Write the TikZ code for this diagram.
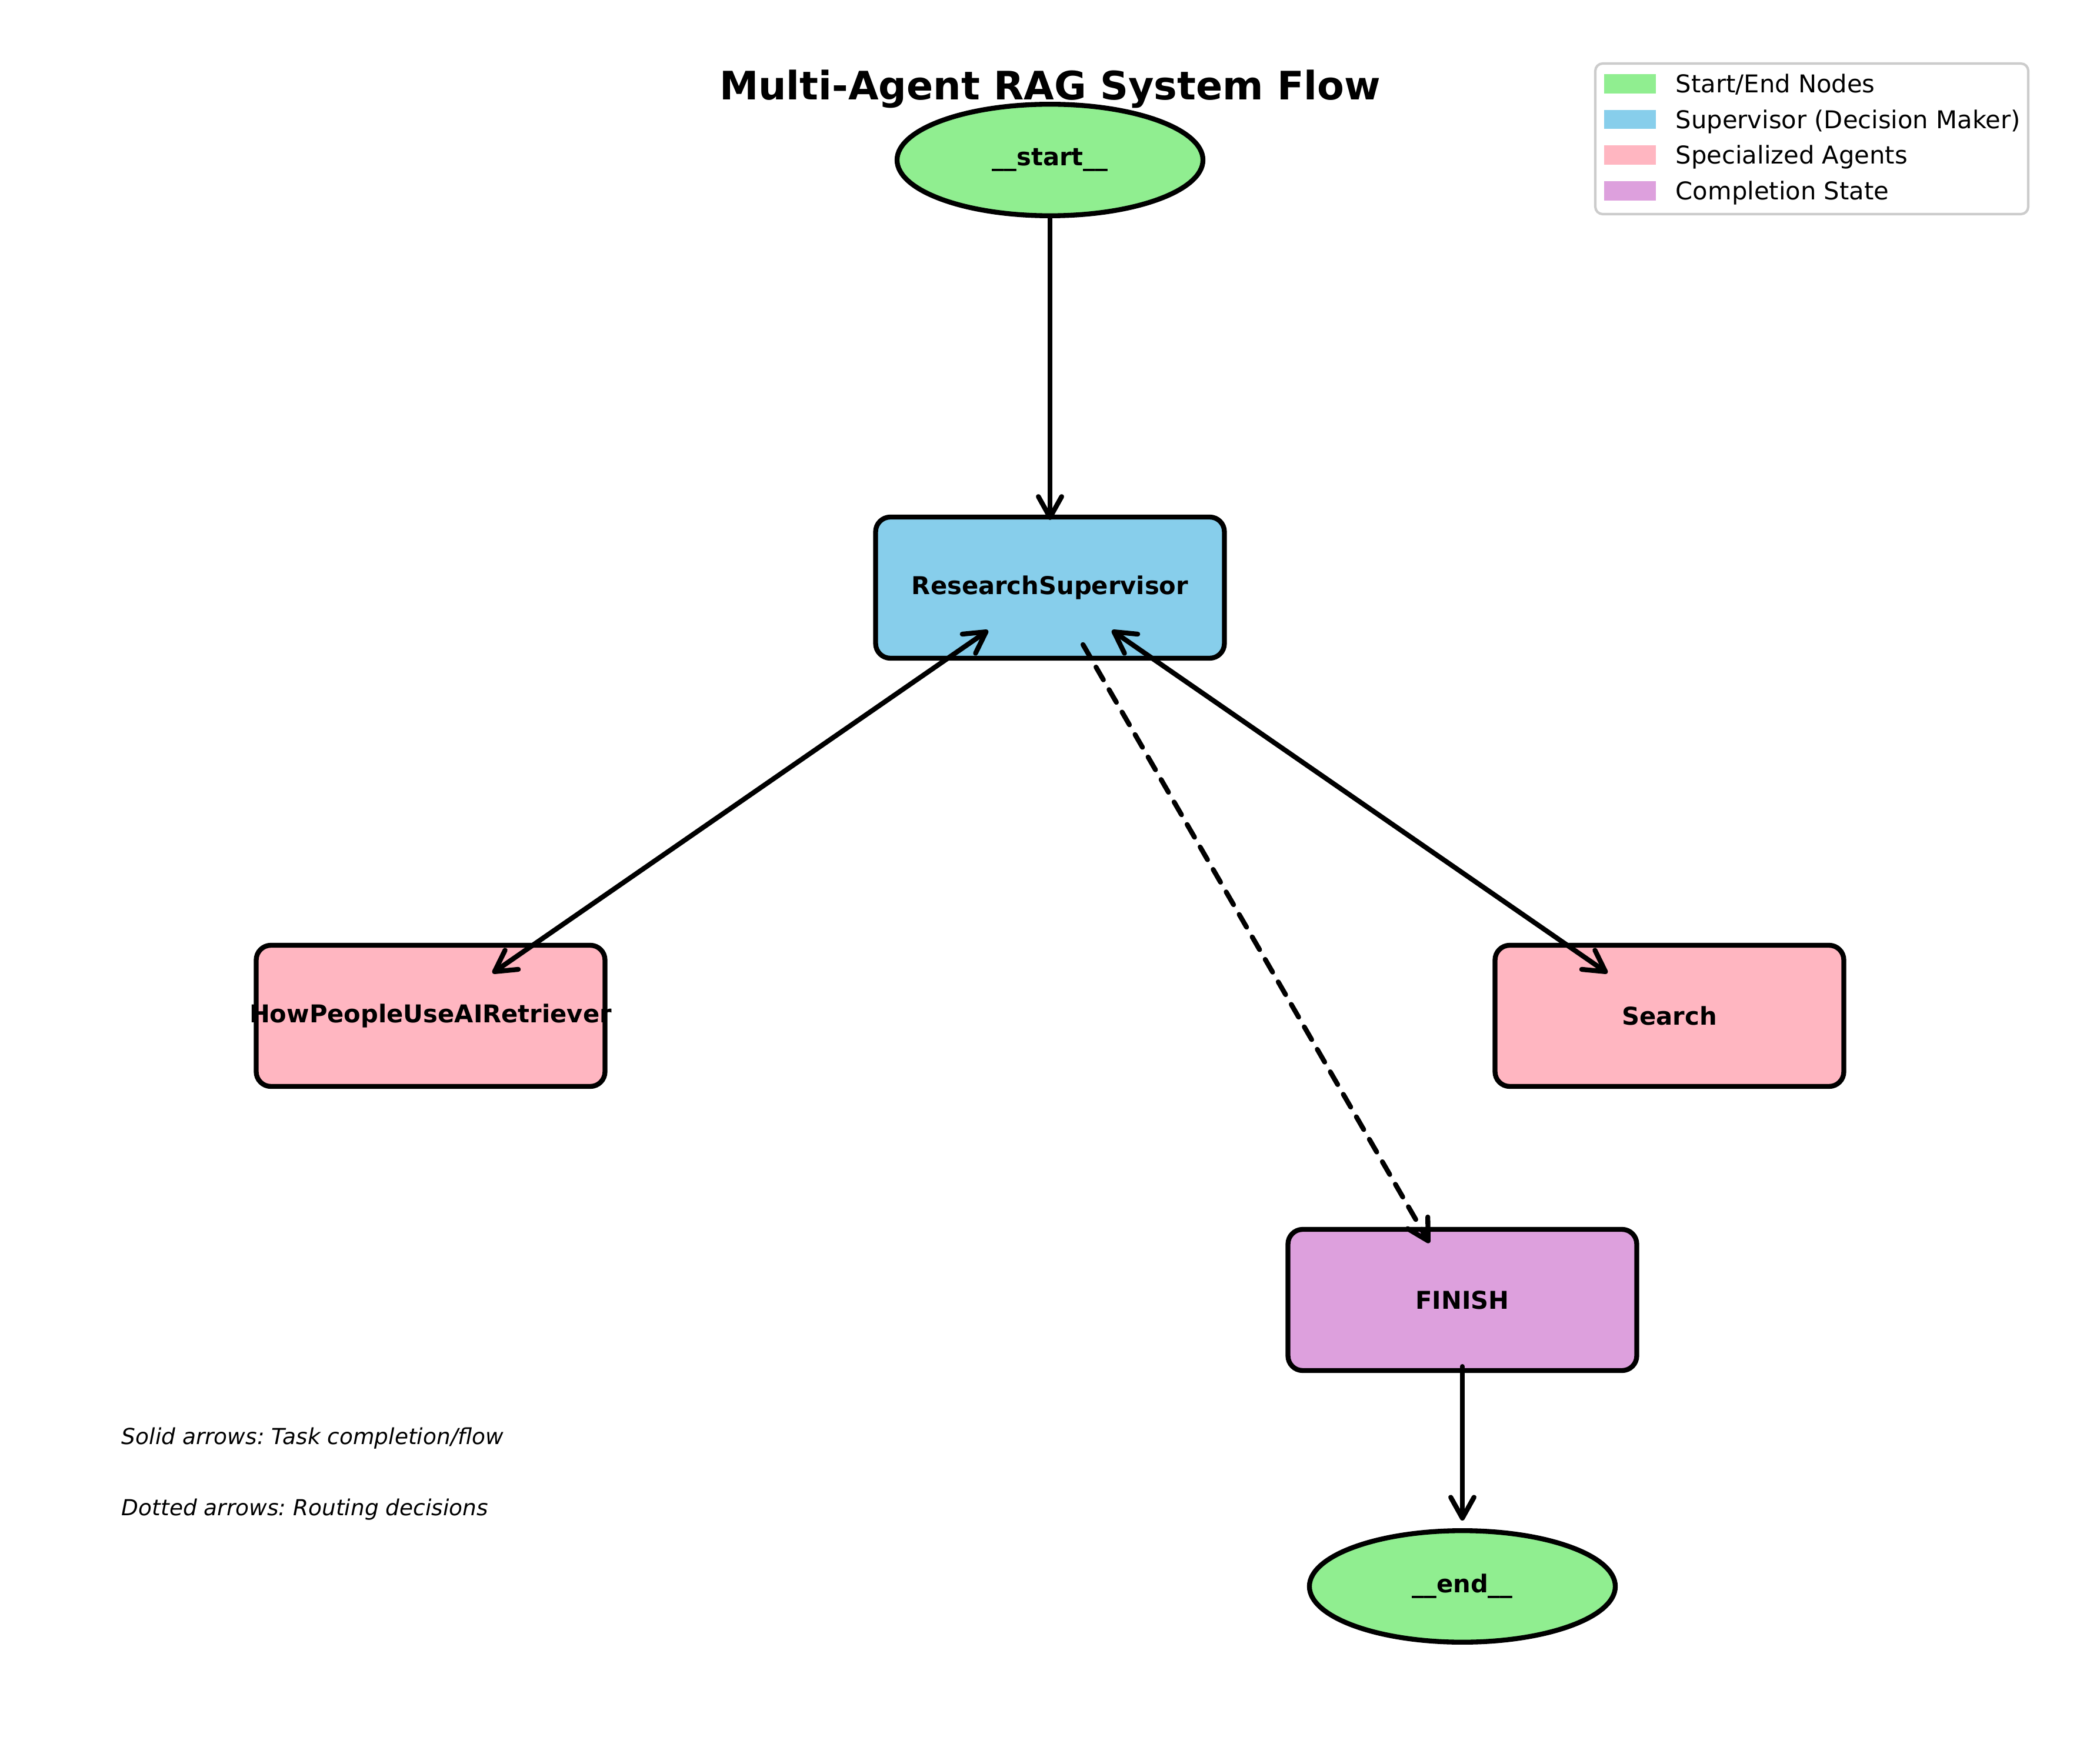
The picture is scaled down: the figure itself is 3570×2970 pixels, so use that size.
\documentclass[tikz,border=0pt]{standalone}
\usepackage{fontspec}
\setmainfont{DejaVu Sans}
\usetikzlibrary{shapes.geometric,arrows.meta,calc}
\frenchspacing
\definecolor{cgreen}{HTML}{90EE90}
\definecolor{cblue}{HTML}{87CEEB}
\definecolor{cpink}{HTML}{FFB6C1}
\definecolor{cplum}{HTML}{DDA0DD}
\definecolor{legframe}{HTML}{CCCCCC}
\tikzset{
  boxnode/.style={draw=black, line width=2bp, rounded corners=6bp, minimum width=142.3bp, minimum height=57.6bp, inner sep=0pt, font=\fontsize{10bp}{12bp}\selectfont\bfseries},
  ovalnode/.style={ellipse, draw=black, fill=cgreen, line width=2bp, minimum width=124.8bp, minimum height=45.5bp, inner sep=0pt, font=\fontsize{10bp}{12bp}\selectfont\bfseries},
  flowarrow/.style={line width=2bp, line cap=round, line join=round, -{Straight Barb[length=8.5bp,width=9.5bp,line cap=round,line join=round]}},
  twoarrow/.style={line width=2bp, line cap=round, line join=round, {Straight Barb[length=8.5bp,width=9.5bp,line cap=round,line join=round]}-{Straight Barb[length=8.5bp,width=9.5bp,line cap=round,line join=round]}},
  dasharrow/.style={flowarrow, dash pattern=on 6bp off 4.6bp},
  legpatch/.style={minimum width=21.1bp, minimum height=7.9bp, inner sep=0pt, draw=none},
  legtext/.style={anchor=base west, inner sep=0pt, font=\fontsize{10bp}{12bp}\selectfont},
  notetext/.style={anchor=base west, inner sep=0pt, font=\fontsize{9bp}{11bp}\selectfont\itshape}
}
\begin{document}
\begin{tikzpicture}[x=0.24bp, y=-0.24bp]
\useasboundingbox (0,0) rectangle (3570,2970);
\fill[white] (0,0) rectangle (3570,2970);

% title
\node[anchor=base, inner sep=0pt, font=\fontsize{16bp}{19bp}\selectfont\bfseries] (title) at (1785,170) {Multi-Agent RAG System Flow};

% nodes
\node[ovalnode] (start) at (1785,272) {\_\_start\_\_};
\node[boxnode, fill=cblue] (sup) at (1785,999) {ResearchSupervisor};
\node[boxnode, fill=cpink] (how) at (732,1727) {\makebox[0pt]{HowPeopleUseAIRetriever}};
\node[boxnode, fill=cpink] (search) at (2838,1727) {Search};
\node[boxnode, fill=cplum] (finish) at (2486,2210) {FINISH};
\node[ovalnode] (end) at (2486,2697) {\_\_end\_\_};

% connectors
\draw[flowarrow] (start.south) -- ($(sup.north)+(0,9)$);
\draw[twoarrow] ($(sup)!0.1!(how)$) -- ($(sup)!0.9!(how)$);
\draw[twoarrow] ($(sup)!0.1!(search)$) -- ($(sup)!0.9!(search)$);
\draw[dasharrow] ($(sup)!0.08!(finish)$) -- ($(sup)!0.92!(finish)$);
\draw[flowarrow] ($(finish.south)+(0,-11)$) -- ($(end.north)+(0,-13)$);

% legend
\draw[legframe, line width=1bp, fill=white, rounded corners=3bp] (2712,108) rectangle (3448,364);
\node[legpatch, fill=cgreen] (lp1) at (2771,142.5) {};
\node[legpatch, fill=cblue]  (lp2) at (2771,203) {};
\node[legpatch, fill=cpink]  (lp3) at (2771,263.5) {};
\node[legpatch, fill=cplum]  (lp4) at (2771,324.5) {};
\node[legtext] (lt1) at (2848,158) {Start/End Nodes};
\node[legtext] (lt2) at (2848,218.5) {Supervisor (Decision Maker)};
\node[legtext] (lt3) at (2848,279) {Specialized Agents};
\node[legtext] (lt4) at (2848,340) {Completion State};

% notes
\node[notetext] (n1) at (206,2455) {Solid arrows: Task completion/flow};
\node[notetext] (n2) at (206,2576) {Dotted arrows: Routing decisions};
\end{tikzpicture}
\end{document}
